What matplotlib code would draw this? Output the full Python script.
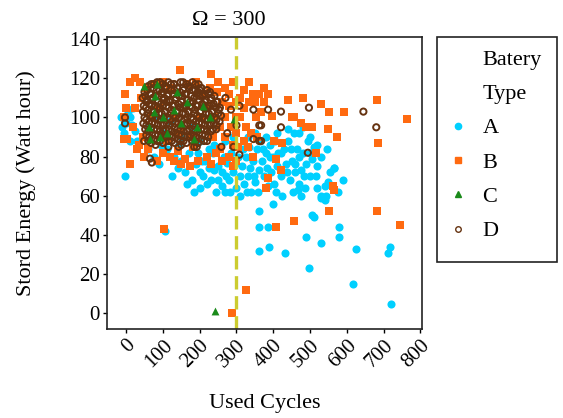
import numpy as np
import matplotlib.pyplot as plt
from matplotlib.lines import Line2D
from matplotlib.patches import Rectangle
from matplotlib.transforms import blended_transform_factory

plt.rcParams['font.family'] = ['Liberation Serif', 'DejaVu Serif']

# type A (cyan)
a_x = [-15, -10, -5, 0, 5, 10, 15, 20, 25, 30, 10, 60, 80, 100, 120, 150, 180, 200,
       110, 130, 150, 170, 190, 200, 210, 220, 230, 240, 250, 260, 270, 280, 290, 300,
       310, 320, 330, 340, 350, 360, 370, 380, 390, 400, 410, 420, 430, 440, 450, 460,
       470, 480, 490, 500, 510, 520, 530, 540, 550, 565, 575, 590, 160, 180, 200, 215,
       235, 255, 265, 275, 285, 295, 305, 315, 325, 335, 345, 355, 365, 375, 385, 395,
       405, 420, 435, 445, 455, 465, 475, 485, 495, 505, 520, 456, 480,
       60, 75, 90, 95, 125, 140, 145, 165, 185, 195, 205, 225, 245, 250, 262, 272,
       282, 296, 310, 318, 328, 338, 348, 358, 372, 382, 392, 402, 412, 425, 438, 448,
       458, 470, 484, 500, 515, 540, 555, 240, 225, 270, 290, 330, 350, 380, 410, 440,
       470, 500, 520, 530, 545,
       362, 362, 362, 389, 386, 400, 408, 432, 467, 475, 489, 497, 505, 510, 529, 529,
       543, 564, 578, 578, 618, 626, 713, 718, 721, 105, -3]
a_y = [100, 95, 92, 97, 103, 100, 96, 105, 93, 88, 88, 95, 100, 92, 98, 90, 95, 88,
       84, 80, 78, 82, 76, 72, 70, 66, 68, 73, 75, 65, 62, 68, 72, 64,
       60, 66, 70, 62, 67, 73, 78, 82, 86, 80, 75, 70, 84, 88, 78, 72,
       66, 82, 76, 70, 85, 64, 60, 58, 67, 74, 62, 68, 72, 68, 64, 78,
       82, 85, 80, 77, 82, 86, 80, 75, 80, 85, 78, 84, 88, 70, 65, 72,
       88, 82, 76, 68, 62, 84, 73, 64, 88, 79, 75, 92, 95,
       84, 80, 76, 86, 70, 74, 86, 66, 62, 82, 78, 74, 62, 68, 72, 70,
       62, 76, 70, 84, 62, 74, 70, 62, 84, 74, 80, 66, 82, 60, 72, 84,
       76, 80, 70, 82, 70, 65, 72, 86, 84, 88, 90, 90, 92, 90, 92, 94,
       92, 90, 86, 80, 84,
       52, 44, 32, 34, 44, 56, 62, 31, 63, 60, 39, 23, 50, 49, 36, 59,
       60, 74, 44, 39, 15, 33, 31, 34, 5, 42, 70]

# type B (orange)
b_x = [381, 564, 551, 683, 745, 456, 408, 103, 327, 289,
       683, 764, 686, 591, 551, 529, 481, 440, 375, 375, 386, 456, 475, 489, 505,
       548, 572, 516, 402, 424, 408, 421, 386, 562, 397, 451, 367, 354, 327,
       146, 38, -3, -5, 3, 11, 30, 119, 140, 160, 181, 165, 78, 227, 246, 281, 300,
       235, 254, 219, 100, 60, 45, 20, 25, 40, 55, 100, 120, 190, 210, 260, 270,
       285, 300, 310, 320, 335, 345, 240, 255, 270, 290, 305, 320, 340, 70, 90,
       130, 150, 180, 200, 220, 110, 140,
       270, 280, 290, 300, 310, 280, 290, 300, 260, 245, 230, 195, 175, 150, 130, 85,
       50, 35, -5, 0, 10, 25, 320, 335, 350, 360, 230, 250, 330, 345, 355]
b_y = [64, 63, 52, 52, 45, 47, 44, 43, 12, 0,
       109, 99, 87, 103, 103, 107, 110, 109, 115, 108, 112, 100, 97, 95, 95,
       94, 90, 82, 88, 87, 79, 73, 69, 65, 101, 100, 103, 100, 95,
       124, 118, 112, 89, 89, 76, 84, 80, 83, 79, 85, 117, 117, 115, 113, 106, 100,
       90, 84, 80, 82, 84, 90, 95, 105, 110, 115, 118, 115, 118, 112, 108, 100,
       95, 92, 110, 105, 108, 112, 100, 95, 90, 86, 85, 88, 92, 100, 105,
       100, 95, 90, 100, 105, 88, 92,
       115, 112, 118, 108, 100, 80, 75, 78, 78, 82, 76, 78, 75, 76, 78, 78,
       80, 86, 100, 105, 118, 120, 114, 118, 108, 112, 122, 118, 85, 80, 90]

# type C (green)
c_x = [49, 84, 65, 92, 130, 165, 192, 227, 292, 62, 111, 78, 138, 184, 100, 150, 210, 75, 243]
c_y = [116, 117, 89, 90, 104, 108, 95, 100, 99, 95, 92, 111, 113, 89, 100, 97, 106, 103, 1]

# type D (brown)
d_x = [60, 75, 92, 108, 122, 140, 155, 172, 188, 205,
       50, 66, 83, 98, 115, 131, 147, 163, 180, 196, 213, 228,
       45, 58, 72, 88, 104, 119, 136, 152, 168, 185, 200, 216, 232, 248,
       48, 63, 79, 95, 110, 126, 142, 158, 174, 190, 207, 222, 238, 255,
       46, 61, 76, 92, 107, 123, 139, 155, 171, 187, 203, 219, 235, 252,
       50, 66, 82, 97, 113, 129, 145, 161, 177, 193, 209, 225, 241, 258,
       47, 62, 78, 94, 110, 126, 142, 158, 174, 190, 206, 222, 238, 254,
       52, 68, 84, 100, 116, 132, 148, 164, 180, 196, 212, 228, 245,
       55, 71, 87, 103, 119, 135, 151, 167, 183, 199, 215, 231,
       60, 76, 92, 108, 124, 140, 156, 172, 188, 204, 220,
       80, 115, 150, 185,
       68, 84, 100, 115, 131, 148, 164, 180, 197,
       58, 74, 91, 107, 123, 139, 155, 171, 188, 204, 220,
       52, 65, 80, 96, 112, 128, 144, 160, 176, 192, 208, 224, 240,
       55, 71, 87, 102, 118, 134, 150, 166, 182, 198, 214, 230, 246,
       54, 69, 84, 100, 115, 131, 147, 163, 179, 195, 211, 227, 244,
       58, 74, 90, 105, 121, 137, 153, 169, 185, 201, 217, 233, 250,
       55, 70, 86, 102, 118, 134, 150, 166, 182, 198, 214, 230, 246,
       55, 70, 86, 102, 118, 134, 150, 166, 182, 198, 214, 230, 246,
       60, 76, 92, 108, 124, 140, 156, 172, 188, 204, 220, 236,
       63, 79, 95, 111, 127, 143, 159, 175, 191, 207, 223,
       68, 84, 100, 116, 132, 148, 164, 180, 196, 212,
       -3, -3, 65, 70, 130, 200, 308, 346, 362, 346, 362, 292, 308, 259, 192, 143,
       49, 386, 421, 497, 645, 680, 421, 367, 367, 494, 270, 285, 300, 275]
d_y = [116, 117, 118, 116, 117, 115, 118, 116, 117, 115,
       113, 112, 114, 113, 112, 114, 113, 112, 114, 113, 112, 113,
       110, 109, 110, 111, 110, 109, 110, 111, 109, 110, 111, 109, 110, 108,
       106, 107, 106, 107, 108, 106, 107, 106, 108, 106, 107, 106, 107, 105,
       103, 104, 103, 105, 103, 104, 103, 105, 103, 104, 103, 105, 103, 104,
       100, 101, 100, 102, 100, 101, 100, 102, 100, 101, 100, 102, 100, 101,
       97, 98, 97, 99, 97, 98, 97, 99, 97, 98, 97, 99, 97, 98,
       94, 95, 94, 96, 94, 95, 94, 96, 94, 95, 94, 96, 94,
       91, 92, 91, 93, 91, 92, 91, 93, 91, 92, 91, 93,
       88, 89, 88, 90, 88, 89, 88, 90, 88, 89, 88,
       86, 85, 86, 85,
       117, 118, 117, 118, 117, 118, 117, 118, 117,
       114, 115, 114, 115, 114, 115, 114, 115, 114, 115, 114,
       111, 112, 111, 112, 111, 112, 111, 112, 111, 112, 111, 112, 111,
       108, 109, 108, 109, 108, 109, 108, 109, 108, 109, 108, 109, 108,
       105, 106, 105, 106, 105, 106, 105, 106, 105, 106, 105, 106, 105,
       102, 103, 102, 103, 102, 103, 102, 103, 102, 103, 102, 103, 102,
       99, 100, 99, 100, 99, 100, 99, 100, 99, 100, 99, 100, 99,
       96, 97, 96, 97, 96, 97, 96, 97, 96, 97, 96, 97, 96,
       93, 94, 93, 94, 93, 94, 93, 94, 93, 94, 93, 94,
       90, 91, 90, 91, 90, 91, 90, 91, 90, 91, 90,
       87, 88, 87, 88, 87, 88, 87, 88, 87, 88,
       100, 97, 79, 77, 117, 114, 106, 104, 96, 89, 88, 85, 81, 85, 85, 85,
       88, 104, 103, 105, 103, 95, 95, 96, 88, 82, 110, 104, 96, 92]

omega = 300
col_a = '#00d0ff'
col_b = '#ff6a10'
col_c = '#1a8a1a'
col_d = '#663311'

fig = plt.figure(figsize=(5.63, 4.18), dpi=100)
ax = fig.add_axes([0.190, 0.213, 0.560, 0.698])

ax.scatter(a_x, a_y, s=34, marker='o', color=col_a, linewidths=0)
ax.scatter(b_x, b_y, s=36, marker='s', color=col_b, linewidths=0)
ax.scatter(d_x, d_y, s=20, marker='o', facecolors='none', edgecolors=col_d, linewidths=1.4)
ax.scatter(c_x, c_y, s=32, marker='^', color=col_c, linewidths=0)

ax.axvline(omega, color='#cccc30', linestyle=(0, (4, 2)), linewidth=2.4)

ax.set_xlim(-52, 805)
ax.set_ylim(-8, 141)
ax.set_xticks(np.arange(0, 801, 100))
ax.set_yticks(np.arange(0, 141, 20))
ax.tick_params(labelsize=15, direction='out', length=3, width=1, pad=2)
plt.setp(ax.get_xticklabels(), rotation=45, ha='right', rotation_mode='anchor')
for s in ax.spines.values():
    s.set_linewidth(1.2)
    s.set_color('#222222')

ax.set_xlabel('Used Cycles', fontsize=16)
ax.set_ylabel('Stord Energy (Watt hour)', fontsize=16)
ax.xaxis.set_label_coords(0.5, -0.222)
ax.yaxis.set_label_coords(-0.225, 0.5)
ax.text(280, 0.952, 'Ω = 300', transform=blended_transform_factory(ax.transData, fig.transFigure),
        ha='center', va='center', fontsize=16)

handles = [Line2D([], [], linestyle='', marker=''),
           Line2D([], [], linestyle='', marker=''),
           Line2D([], [], linestyle='', marker='o', color=col_a, markersize=4.5),
           Line2D([], [], linestyle='', marker='s', color=col_b, markersize=5),
           Line2D([], [], linestyle='', marker='^', color=col_c, markersize=5),
           Line2D([], [], linestyle='', marker='o', markerfacecolor='none',
                  markeredgecolor=col_d, markersize=4)]
labels = ['Batery', 'Type', 'A', 'B', 'C', 'D']
fig.legend(handles, labels, loc='upper left', bbox_to_anchor=(0.762, 0.930),
           frameon=False, fontsize=16, handlelength=0.8, handletextpad=0.7,
           labelspacing=0.62)
fig.add_artist(Rectangle((437 / 563, 1 - 262 / 418), 120 / 563, 225 / 418,
                         transform=fig.transFigure, fill=False,
                         edgecolor='#222222', linewidth=1.2))

fig.savefig('out.png', dpi=100)
